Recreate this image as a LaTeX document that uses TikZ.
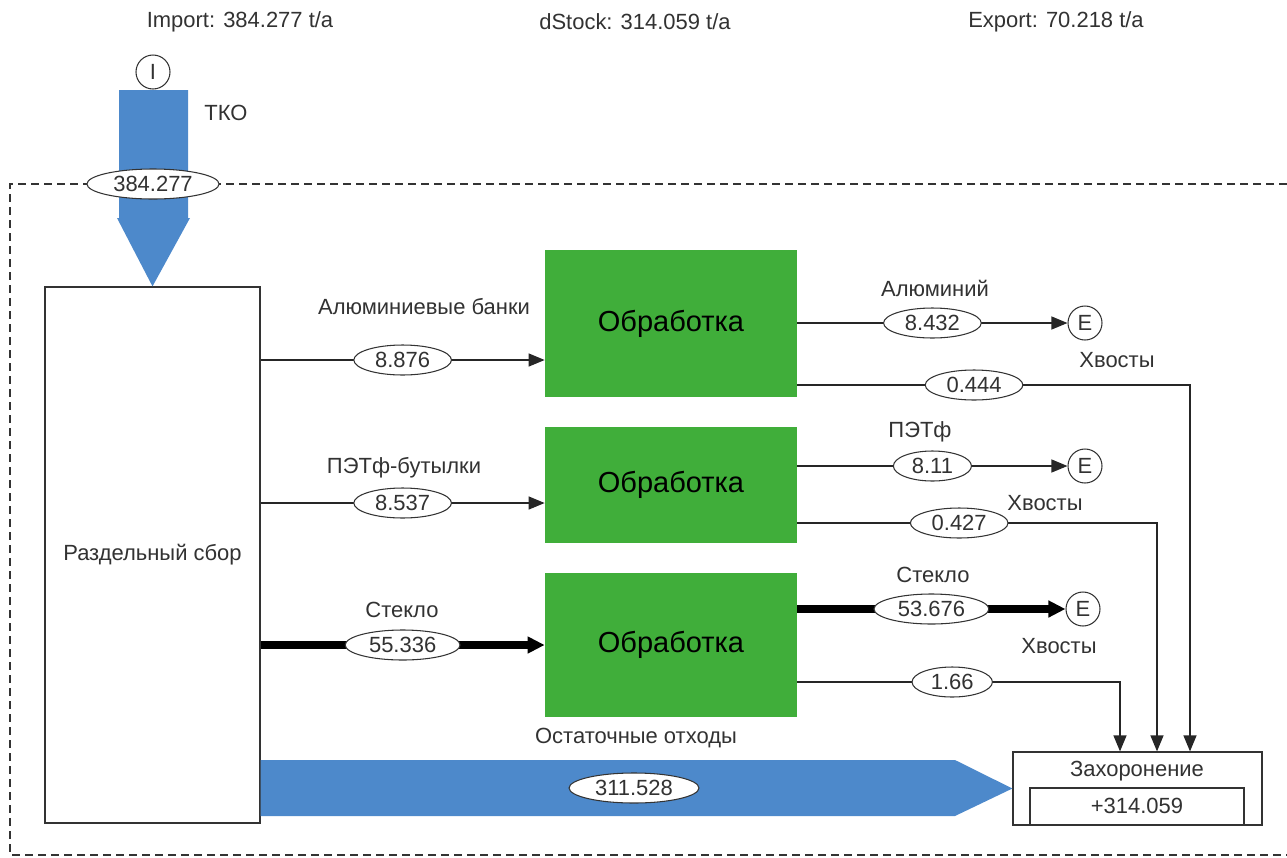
\documentclass[tikz,border=0pt]{standalone}
\usepackage{fontspec}
\setmainfont{Liberation Sans}
\usetikzlibrary{arrows.meta,shapes.geometric}

\definecolor{procgreen}{RGB}{64,174,58}
\definecolor{flowblue}{RGB}{77,137,203}
\definecolor{txtgray}{RGB}{50,50,50}

\tikzset{
  lbl/.style={font=\fontsize{12.5}{14}\selectfont, text=txtgray, inner sep=0pt},
  flowval/.style={ellipse, draw=black!80, fill=white, line width=0.6pt,
    inner xsep=4pt, inner ysep=0pt, minimum height=6mm,
    font=\fontsize{12.5}{14}\selectfont, text=txtgray},
  procbox/.style={fill=procgreen, minimum width=50.4mm,
    font=\fontsize{16.5}{18}\selectfont, text=black},
  endpt/.style={circle, draw=black!80, line width=0.6pt, minimum size=6.8mm,
    inner sep=0pt, font=\fontsize{12.5}{14}\selectfont, text=txtgray},
  thinflow/.style={draw=black!85, line width=0.7pt,
    -{Triangle[length=3.2mm,width=2.6mm]}},
  thickflow/.style={draw=black, line width=4.5pt,
    -{Triangle[length=3.4mm,width=3.2mm]}},
  fatflow/.style={fill=flowblue},
}

\begin{document}
\begin{tikzpicture}[x=0.2mm,y=-0.2mm]
  \useasboundingbox (0,0) rectangle (1287,858);

  % balance summary
  \node[lbl] (imp) at (240,22) {Import: 384.277 t/a};
  \node[lbl] (dst) at (635,22) {dStock: 314.059 t/a};
  \node[lbl] (exp) at (1056,22) {Export: 70.218 t/a};

  % system boundary
  \draw[black!80, line width=0.7pt, dash pattern=on 1.6mm off 1mm]
    (1287,184) -- (10,184) -- (10,855) -- (1287,855);

  % processes
  \node[draw=black!80, line width=0.7pt, fill=white, minimum width=43mm,
    minimum height=107.2mm, lbl] (sep) at (152.5,555) {Раздельный сбор};
  \node[procbox, minimum height=29.4mm] (proc1) at (671,323.5) {Обработка};
  \node[procbox, minimum height=23.2mm] (proc2) at (671,485) {Обработка};
  \node[procbox, minimum height=28.8mm] (proc3) at (671,645) {Обработка};
  \node[draw=black!80, line width=0.7pt, fill=white, minimum width=49.8mm,
    minimum height=14.6mm] (dump) at (1137.5,788.5) {};
  \node[lbl] (dumplbl) at (1137,771) {Захоронение};
  \draw[black!80, line width=0.7pt] (1030,824) -- (1030,788) -- (1244,788) -- (1244,824);
  \node[lbl] (stock) at (1137,806) {+314.059};

  % import
  \node[endpt] (imp1) at (153,72) {I};
  \fill[fatflow] (119,90) -- (188,90) -- (188,218) -- (190,218)
    -- (sep.north) -- (117,218) -- (119,218) -- cycle;
  \node[lbl] (tko) at (226,113) {ТКО};
  \node[flowval] (v0) at (153,184) {384.277};

  % separate collection -> treatment
  \node[lbl] (l1) at (424,307) {Алюминиевые банки};
  \draw[thinflow] (sep.east |- 0,360) -- node[flowval] {8.876} (proc1.west |- 0,360);
  \node[lbl] (l2) at (404,468) {ПЭТф-бутылки};
  \draw[thinflow] (sep.east |- 0,503) -- node[flowval] {8.537} (proc2.west |- 0,503);
  \node[lbl] (l3) at (402,610) {Стекло};
  \draw[thickflow] (sep.east |- 0,645) -- node[flowval] {55.336} (proc3.west);

  % exports
  \node[endpt] (e1) at (1085,323) {E};
  \node[endpt] (e2) at (1085,466) {E};
  \node[endpt] (e3) at (1083,609) {E};
  \node[lbl] (l4) at (935,288) {Алюминий};
  \draw[thinflow] (proc1.east |- e1) -- node[flowval] {8.432} (e1);
  \node[lbl] (l5) at (920,432) {ПЭТф};
  \draw[thinflow] (proc2.east |- e2) -- node[flowval] {8.11} (e2);
  \node[lbl] (l6) at (933,575) {Стекло};
  \draw[thickflow] (proc3.east |- e3) -- node[flowval] {53.676} (e3);

  % tailings
  \node[lbl] (h1) at (1117,360) {Хвосты};
  \node[lbl] (h2) at (1045,503) {Хвосты};
  \node[lbl] (h3) at (1059,646) {Хвосты};
  \coordinate (t1) at (1190,385);
  \coordinate (t2) at (1157,523);
  \coordinate (t3) at (1120,682);
  \draw[thinflow] (proc1.east |- t1) -- node[flowval, pos=0.45] {0.444} (t1) -- (dump.north -| t1);
  \draw[thinflow] (proc2.east |- t2) -- node[flowval, pos=0.45] {0.427} (t2) -- (dump.north -| t2);
  \draw[thinflow] (proc3.east |- t3) -- node[flowval, pos=0.48] {1.66} (t3) -- (dump.north -| t3);

  % residual waste
  \node[lbl] (l7) at (636,738) {Остаточные отходы};
  \fill[fatflow] (sep.east |- 0,760) -- (955,760) -- (dump.west) -- (955,816)
    -- (sep.east |- 0,816) -- cycle;
  \node[flowval] (v9) at (634,788) {311.528};
\end{tikzpicture}
\end{document}
